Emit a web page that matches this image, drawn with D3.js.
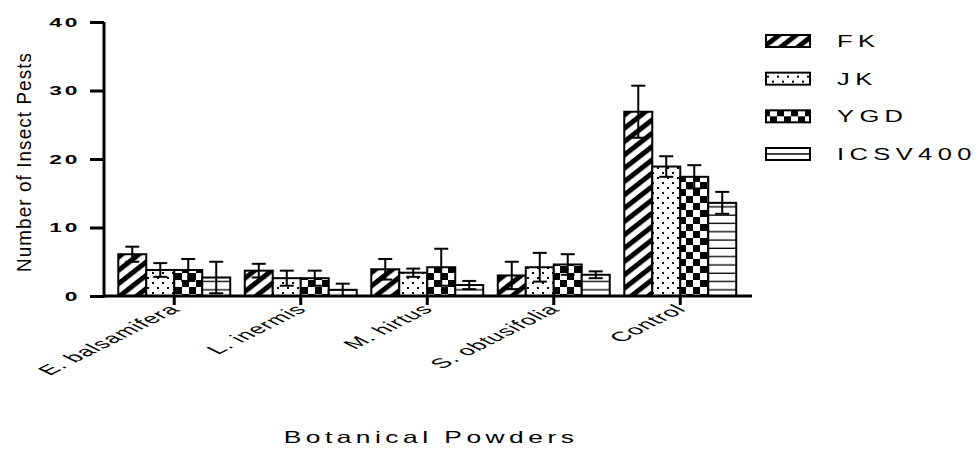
<!DOCTYPE html>
<html>
<head>
<meta charset="utf-8">
<script src="https://cdn.jsdelivr.net/npm/d3@7"></script>
<style>
  html, body { margin: 0; padding: 0; background: #fff; }
  svg { display: block; font-family: "Liberation Sans", Arial, sans-serif; }
</style>
</head>
<body>
<svg id="chart" width="976" height="453"></svg>
<script>
// Insect pest counts per botanical powder treatment and sorghum variety (mean ± error)
const categories = ["E. balsamifera", "L. inermis", "M. hirtus", "S. obtusifolia", "Control"];
const varieties = ["FK", "JK", "YGD", "ICSV400"];
const fkMean   = [6.1, 3.7, 3.9, 3.0, 26.9];
const fkErr    = [1.1, 1.0, 1.5, 2.0, 3.8];
const jkMean   = [3.8, 2.6, 3.4, 4.2, 18.9];
const jkErr    = [1.0, 1.1, 0.6, 2.1, 1.5];
const ygdMean  = [3.8, 2.6, 4.2, 4.6, 17.4];
const ygdErr   = [1.6, 1.1, 2.7, 1.5, 1.7];
const icsvMean = [2.7, 0.9, 1.6, 3.1, 13.6];
const icsvErr  = [2.3, 0.9, 0.6, 0.5, 1.6];
const yTicks = [0, 10, 20, 30, 40];

const means = [fkMean, jkMean, ygdMean, icsvMean];
const errs = [fkErr, jkErr, ygdErr, icsvErr];
const rows = [];
categories.forEach((c, ci) => varieties.forEach((v, vi) => {
  rows.push({ cat: c, variety: v, mean: means[vi][ci], err: errs[vi][ci] });
}));

const svg = d3.select("#chart");
const defs = svg.append("defs");

// Fill patterns, one per variety
const pFK = defs.append("pattern").attr("id", "pat-FK")
  .attr("patternUnits", "userSpaceOnUse").attr("width", 10).attr("height", 10.5)
  .attr("patternTransform", "rotate(-38)");
pFK.append("rect").attr("width", 10).attr("height", 10.5).attr("fill", "#fff");
pFK.append("rect").attr("y", 0).attr("width", 10).attr("height", 5).attr("fill", "#000");

const pJK = defs.append("pattern").attr("id", "pat-JK")
  .attr("patternUnits", "userSpaceOnUse").attr("width", 10).attr("height", 10);
pJK.append("rect").attr("width", 10).attr("height", 10).attr("fill", "#fff");
pJK.append("rect").attr("x", 2).attr("y", 2).attr("width", 2).attr("height", 2).attr("fill", "#000");
pJK.append("rect").attr("x", 7).attr("y", 7).attr("width", 2).attr("height", 2).attr("fill", "#000");

const pYGD = defs.append("pattern").attr("id", "pat-YGD")
  .attr("patternUnits", "userSpaceOnUse").attr("width", 14).attr("height", 14);
pYGD.append("rect").attr("width", 14).attr("height", 14).attr("fill", "#fff");
pYGD.append("rect").attr("x", 0).attr("y", 0).attr("width", 7).attr("height", 7).attr("fill", "#000");
pYGD.append("rect").attr("x", 7).attr("y", 7).attr("width", 7).attr("height", 7).attr("fill", "#000");

const pIC = defs.append("pattern").attr("id", "pat-ICSV400")
  .attr("patternUnits", "userSpaceOnUse").attr("width", 10).attr("height", 8.3);
pIC.append("rect").attr("width", 10).attr("height", 8.3).attr("fill", "#fff");
pIC.append("rect").attr("x", 0).attr("y", 7).attr("width", 10).attr("height", 1.4).attr("fill", "#000");

// Scales
const y = d3.scaleLinear().domain([0, 40]).range([296, 22]);
const x0 = d3.scaleBand().domain(categories).range([111, 743.5])
  .paddingInner(0.115).paddingOuter(0.0575);
const x1 = d3.scaleBand().domain(varieties).range([0, x0.bandwidth()]);

// Bars
const bars = svg.append("g");
bars.selectAll("rect").data(rows).join("rect")
  .attr("x", d => x0(d.cat) + x1(d.variety))
  .attr("y", d => y(d.mean))
  .attr("width", x1.bandwidth())
  .attr("height", d => y(0) - y(d.mean))
  .attr("fill", d => `url(#pat-${d.variety})`)
  .attr("stroke", "#000").attr("stroke-width", 2);

// Error bars
const eb = svg.append("g").attr("stroke", "#000").attr("stroke-width", 2);
rows.forEach(d => {
  const cx = x0(d.cat) + x1(d.variety) + x1.bandwidth() / 2;
  const lo = Math.max(0, d.mean - d.err), hi = d.mean + d.err;
  eb.append("line").attr("x1", cx).attr("x2", cx).attr("y1", y(lo)).attr("y2", y(hi));
  eb.append("line").attr("x1", cx - 7).attr("x2", cx + 7).attr("y1", y(hi)).attr("y2", y(hi));
  eb.append("line").attr("x1", cx - 7).attr("x2", cx + 7).attr("y1", y(lo)).attr("y2", y(lo));
});

// Y axis
const yAxis = svg.append("g").attr("transform", "translate(104,0)")
  .call(d3.axisLeft(y).tickValues(yTicks).tickSize(14).tickFormat(d3.format("d")));
yAxis.select(".domain").attr("stroke-width", 3).attr("d", `M0,${y(40)}V${y(0) + 1.5}`);
yAxis.selectAll(".tick line").attr("stroke-width", 3);
yAxis.selectAll(".tick text")
  .attr("x", null).attr("dy", "0.36em")
  .attr("transform", "translate(-24,0) scale(1.9,1)")
  .attr("font-size", 12).attr("font-weight", "bold")
  .attr("letter-spacing", 1.4).attr("fill", "#000")
  .attr("font-family", "Liberation Sans, Arial, sans-serif");

// X axis
const xAxis = svg.append("g").attr("transform", `translate(0,${y(0)})`)
  .call(d3.axisBottom(x0).tickSize(9).tickSizeOuter(0));
xAxis.select(".domain").attr("stroke-width", 3).attr("d", "M104,0H752");
xAxis.selectAll(".tick line").attr("stroke-width", 3);
xAxis.selectAll(".tick text")
  .attr("y", null).attr("dy", null)
  .attr("text-anchor", "end")
  .attr("transform", "translate(7,14) scale(2,1) rotate(-45)")
  .attr("font-size", 13.5).attr("letter-spacing", 0.5).attr("fill", "#000")
  .attr("font-family", "Liberation Sans, Arial, sans-serif");

// Axis titles
svg.append("text")
  .attr("transform", "translate(31,162) rotate(-90) scale(0.9,1)")
  .attr("text-anchor", "middle").attr("font-size", 21).attr("letter-spacing", 1.2)
  .text("Number of Insect Pests");

svg.append("text")
  .attr("transform", "translate(431,443) scale(1.6,1)")
  .attr("text-anchor", "middle").attr("font-size", 16.5).attr("letter-spacing", 2.8)
  .text("Botanical Powders");

// Legend
const legend = svg.append("g");
const legY = d3.scalePoint().domain(varieties).range([41, 154]);
varieties.forEach(v => {
  const g = legend.append("g").attr("transform", `translate(0,${legY(v)})`);
  g.append("rect").attr("x", 766).attr("y", -6).attr("width", 44).attr("height", 12)
    .attr("fill", v === "ICSV400" ? "#fff" : `url(#pat-${v})`)
    .attr("stroke", "#000").attr("stroke-width", 2);
  if (v === "ICSV400") {
    g.append("line").attr("x1", 766).attr("x2", 810).attr("y1", 0).attr("y2", 0)
      .attr("stroke", "#000").attr("stroke-width", 1.5);
  }
  g.append("text").attr("transform", "translate(837,6) scale(1.5,1)")
    .attr("font-size", 17).attr("letter-spacing", 3.6).text(v);
});
</script>
</body>
</html>
